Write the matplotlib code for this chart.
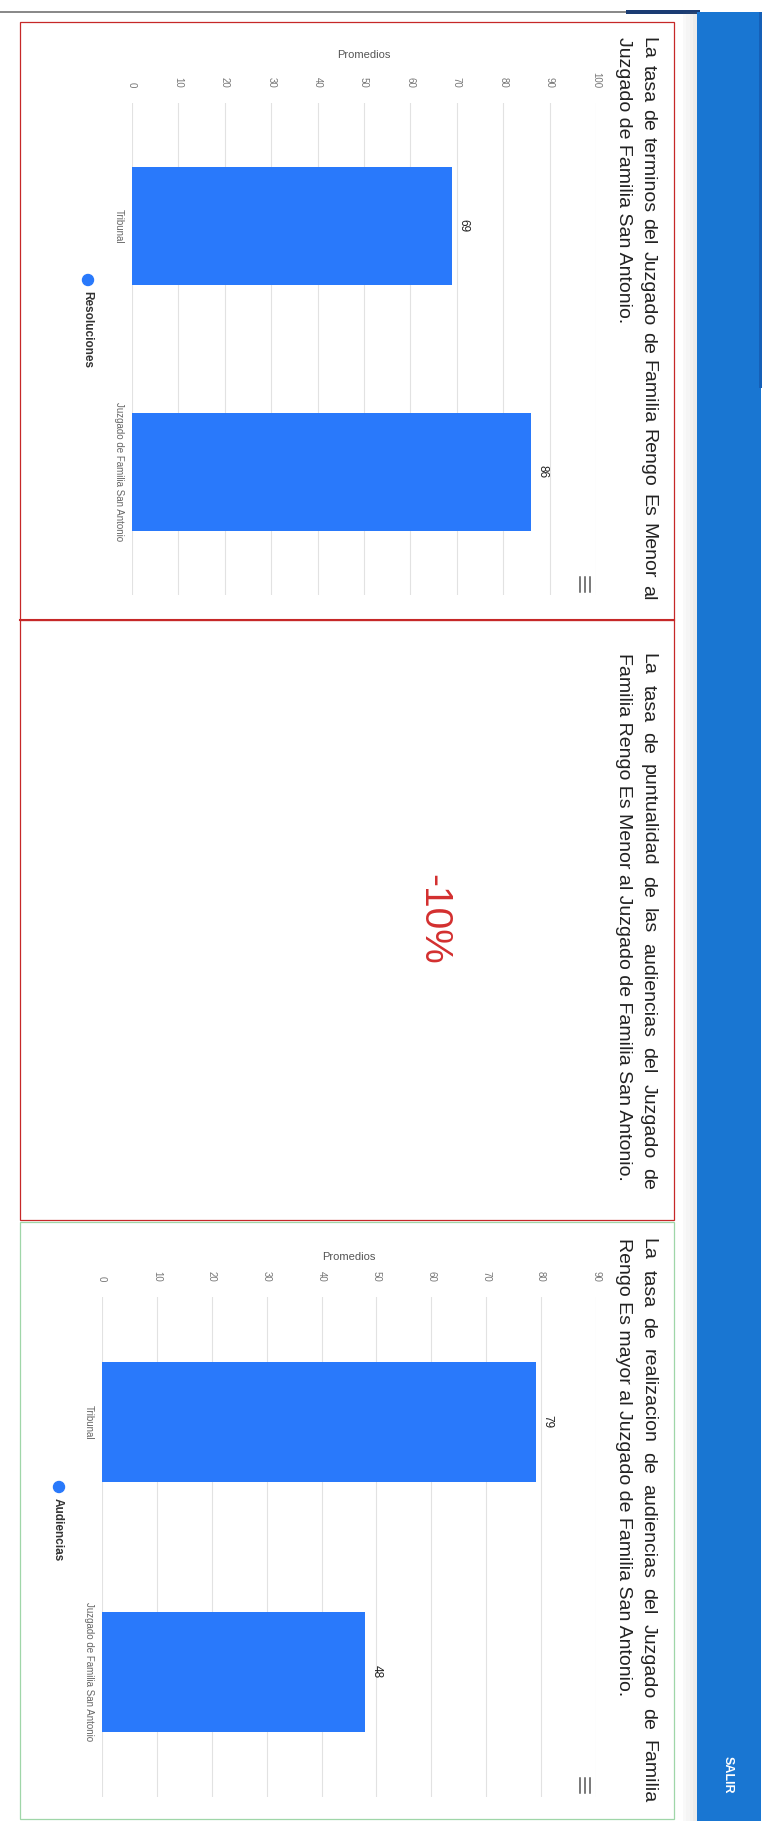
import matplotlib.pyplot as plt
from matplotlib.patches import Rectangle, Circle

# data
categorias = ['Tribunal', 'Juzgado de Familia San Antonio']
resoluciones = [69, 86]
audiencias = [79, 48]
ticks_resol = list(range(0, 101, 10))
ticks_aud = list(range(0, 91, 10))
puntualidad = '-10%'

titulo1 = ['La tasa de terminos del Juzgado de Familia Rengo Es Menor al',
           'Juzgado de Familia San Antonio.']
titulo2 = ['La tasa de puntualidad de las audiencias del Juzgado de',
           'Familia Rengo Es Menor al Juzgado de Familia San Antonio.']
titulo3 = ['La tasa de realizacion de audiencias del Juzgado de Familia',
           'Rengo Es mayor al Juzgado de Familia San Antonio.']

BAR = '#2979fb'
FONT = 'Liberation Sans'
plt.rcParams['font.family'] = [FONT, 'DejaVu Sans']

W, H = 765, 1821
fig = plt.figure(figsize=(W / 100, H / 100), dpi=100)
bg = fig.add_axes([0, 0, 1, 1])
bg.set_xlim(0, W)
bg.set_ylim(H, 0)
bg.axis('off')
renderer = fig.canvas.get_renderer()


def px_axes(l, t, r, b):
    return fig.add_axes([l / W, 1 - b / H, (r - l) / W, (b - t) / H])


def titulo(lineas, y0, y1, x1=648, x2=624, size=14):
    # first line justified between y0 and y1, second line left aligned
    words = lineas[0].split()
    txts = [bg.text(x1, y0, w, rotation=-90, ha='center', va='top',
                    fontsize=size, color='#222') for w in words]
    lens = [t.get_window_extent(renderer).height for t in txts]
    gap = (y1 - y0 - sum(lens)) / (len(words) - 1)
    y = y0
    for t, l in zip(txts, lens):
        t.set_y(y)
        y += l + gap
    bg.text(x2, y0, lineas[1], rotation=-90, ha='center', va='top',
            fontsize=size, color='#222')


def hamburguesa(y0):
    for x in (580, 585, 590):
        bg.plot([x, x], [y0, y0 + 15], color='#555', lw=1.1)


def leyenda(x, y, label):
    bg.add_patch(Circle((x, y), 5.5, color=BAR))
    bg.text(x - 1, y + 11, label, rotation=-90, ha='center', va='top',
            fontsize=8.5, fontweight='bold', color='#333')


def grafico(l, t, r, b, valores, ticks, promedios_y):
    ax = px_axes(l, t, r, b)
    ax.patch.set_visible(False)
    pos = list(range(len(categorias)))
    ax.barh(pos, valores, height=0.48, color=BAR, zorder=3)
    ax.set_xlim(0, ticks[-1])
    ax.set_ylim(len(categorias) - 0.5, -0.5)
    ax.set_axisbelow(True)
    ax.grid(axis='x', color='#e2e2e2', lw=0.8)
    ax.set_xticks(ticks)
    ax.xaxis.tick_top()
    ax.tick_params(axis='x', length=0, pad=11, labelsize=7,
                   labelcolor='#777', labelrotation=-90)
    ax.set_yticks(pos)
    ax.set_yticklabels(categorias, rotation=-90, va='center', fontsize=7,
                       color='#666')
    ax.tick_params(axis='y', length=0, pad=6)
    for s in ax.spines.values():
        s.set_visible(False)
    for i, v in enumerate(valores):
        ax.annotate(str(v), (v, i), xytext=(4, 0), textcoords='offset points',
                    rotation=-90, ha='left', va='center', fontsize=8.5,
                    color='#222')
    # axis title stays horizontal in the screenshot
    bg.text((l + r) / 2, promedios_y, 'Promedios', ha='center',
            va='center', fontsize=8, color='#555')
    return ax


# page chrome
bg.add_patch(Rectangle((0, 10.5), 626, 2.5, color='#8a8a8a', lw=0))
bg.add_patch(Rectangle((626, 10), 74, 3.5, color='#1b3c73', lw=0))
for i, a in enumerate([0.04, 0.07, 0.1, 0.14]):
    bg.add_patch(Rectangle((683 + i * 3.5, 12), 3.5, H, color='#777',
                           alpha=a, lw=0))
bg.add_patch(Rectangle((697, 12), 64, H, color='#1976d2', lw=0))
bg.add_patch(Rectangle((759, 12), 3, 376, color='#1560b8', lw=0))
bg.text(728, 1775, 'SALIR', rotation=-90, ha='center', va='center',
        fontsize=9, fontweight='bold', color='white')

# panels
bg.add_patch(Rectangle((20, 22), 654, 598, fc='white', ec='#c62828', lw=0.9))
bg.add_patch(Rectangle((20, 620), 654, 600, fc='white', ec='#c62828', lw=0.9))
bg.plot([20, 674], [620, 620], color='#c62828', lw=1.5)
bg.add_patch(Rectangle((20, 1222), 654, 597, fc='white', ec='#9fd6a8', lw=0.9))

# panel 1: resoluciones
titulo(titulo1, 37, 600)
grafico(132, 103, 596, 595, resoluciones, ticks_resol, 55)
leyenda(88, 280, 'Resoluciones')
hamburguesa(577)

# panel 2: puntualidad
titulo(titulo2, 653, 1190)
bg.text(433, 919, puntualidad, rotation=-90, ha='center', va='center',
        fontsize=28, color='#d32f2f')

# panel 3: audiencias
titulo(titulo3, 1238, 1803)
grafico(102, 1297, 596, 1797, audiencias, ticks_aud, 1257)
leyenda(59, 1487, 'Audiencias')
hamburguesa(1778)

fig.savefig('out.png', dpi=100)
